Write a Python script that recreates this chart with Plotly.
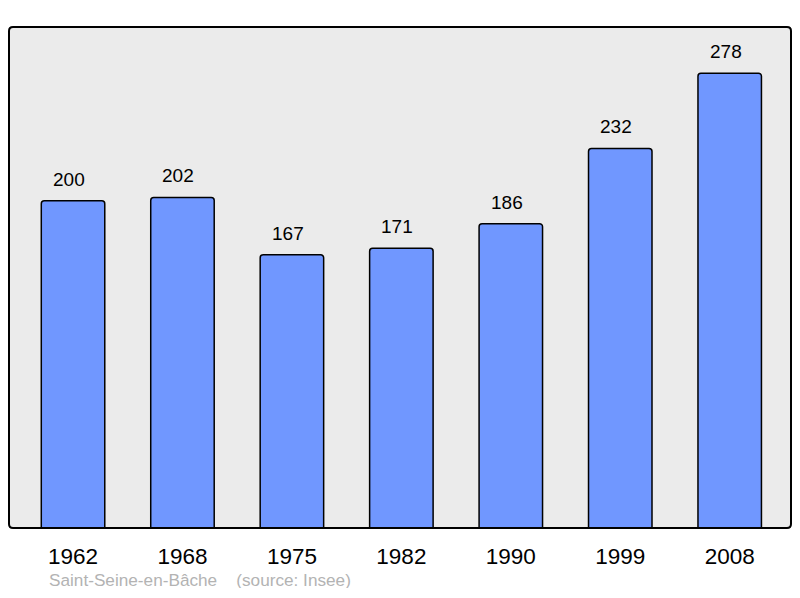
import plotly.graph_objects as go

years = ["1962", "1968", "1975", "1982", "1990", "1999", "2008"]
population = [200, 202, 167, 171, 186, 232, 278]
footer = "Saint-Seine-en-Bâche    (source: Insee)"

FONT = "Liberation Sans, Arial, sans-serif"

fig = go.Figure()
fig.add_trace(go.Bar(
    x=years, y=population, width=0.58,
    marker=dict(color="#7097ff", line=dict(color="#000000", width=1.5), cornerradius=3),
    hoverinfo="x+y",
))
for i, v in enumerate(population):
    fig.add_annotation(x=i, y=v, text=str(v), showarrow=False, yanchor="bottom",
                       yshift=9, xshift=-4, font=dict(family=FONT, size=19, color="#000"))

# rounded frame around plot area
pw, ph = 782.0, 501.0
rx, ry = 4 / pw, 4 / ph
path = (f"M {rx},0 L {1-rx},0 Q 1,0 1,{ry} L 1,{1-ry} Q 1,1 {1-rx},1 "
        f"L {rx},1 Q 0,1 0,{1-ry} L 0,{ry} Q 0,0 {rx},0 Z")
fig.add_shape(type="path", xref="paper", yref="paper", path=path,
              line=dict(color="#000", width=2), fillcolor="rgba(0,0,0,0)", layer="above")
fig.add_annotation(xref="paper", yref="paper", x=0.048, y=-0.103, xanchor="left", yanchor="middle",
                   text=footer.replace("    ", "&nbsp;&nbsp;&nbsp;&nbsp;"), showarrow=False,
                   height=16, font=dict(family=FONT, size=17.2, color="#b3b3b3"))

fig.update_layout(
    width=784, height=582,
    margin=dict(l=1, r=1, t=19, b=62),
    paper_bgcolor="#ffffff", plot_bgcolor="#ebebeb",
    showlegend=False,
    font=dict(family=FONT, color="#000"),
    xaxis=dict(type="category", range=[-0.585, 6.56], showgrid=False, zeroline=False,
               ticks="outside", ticklen=8, tickcolor="rgba(0,0,0,0)",
               tickfont=dict(size=22.5, color="#000"), showline=False),
    yaxis=dict(range=[0, 306.2], showgrid=False, zeroline=False, showticklabels=False,
               showline=False),
)
fig.write_html("out.html")
